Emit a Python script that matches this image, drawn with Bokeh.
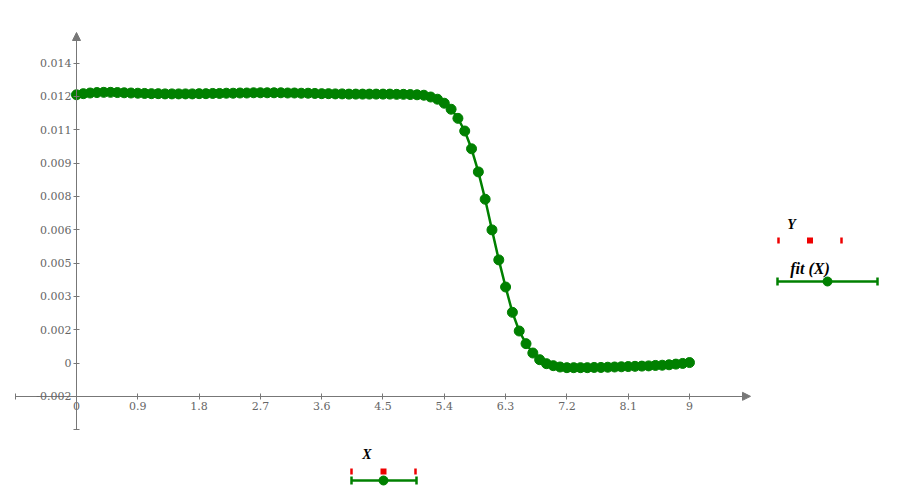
import math
from bokeh.plotting import figure
from bokeh.models import Range1d, LinearAxis, FixedTicker, Arrow, NormalHead
from bokeh.core.properties import value
from bokeh.embed import file_html
from bokeh.resources import INLINE

# ---------------- data ----------------
x_vals = [0.0, 0.1, 0.2, 0.3, 0.4, 0.5, 0.6, 0.7, 0.8, 0.9,
          1.0, 1.1, 1.2, 1.3, 1.4, 1.5, 1.6, 1.7, 1.8, 1.9,
          2.0, 2.1, 2.2, 2.3, 2.4, 2.5, 2.6, 2.7, 2.8, 2.9,
          3.0, 3.1, 3.2, 3.3, 3.4, 3.5, 3.6, 3.7, 3.8, 3.9,
          4.0, 4.1, 4.2, 4.3, 4.4, 4.5, 4.6, 4.7, 4.8, 4.9,
          5.0, 5.1, 5.2, 5.3, 5.4, 5.5, 5.6, 5.7, 5.8, 5.9,
          6.0, 6.1, 6.2, 6.3, 6.4, 6.5, 6.6, 6.7, 6.8, 6.9,
          7.0, 7.1, 7.2, 7.3, 7.4, 7.5, 7.6, 7.7, 7.8, 7.9,
          8.0, 8.1, 8.2, 8.3, 8.4, 8.5, 8.6, 8.7, 8.8, 8.9,
          9.0]
y_vals = [0.01207, 0.01212, 0.01215, 0.01217, 0.01218, 0.01218, 0.01217, 0.01216, 0.01215, 0.01214,
          0.01213, 0.01212, 0.01212, 0.01211, 0.01211, 0.01211, 0.01211, 0.01211, 0.01212, 0.01212,
          0.01213, 0.01213, 0.01214, 0.01214, 0.01215, 0.01215, 0.01216, 0.01216, 0.01216, 0.01216,
          0.01216, 0.01215, 0.01215, 0.01214, 0.01214, 0.01213, 0.01212, 0.01212, 0.01211, 0.01211,
          0.01210, 0.01210, 0.01210, 0.01210, 0.01210, 0.01210, 0.01210, 0.01209, 0.01209, 0.01208,
          0.01207, 0.01205, 0.01197, 0.01187, 0.01169, 0.01142, 0.01101, 0.01044, 0.00964, 0.00860,
          0.00737, 0.00599, 0.00464, 0.00342, 0.00228, 0.00144, 0.00087, 0.00045, 0.00015, -0.00003,
          -0.00012, -0.00018, -0.00021, -0.00021, -0.00021, -0.00021, -0.00020, -0.00020, -0.00019, -0.00018,
          -0.00017, -0.00016, -0.00015, -0.00014, -0.00013, -0.00011, -0.00010, -0.00008, -0.00005, -0.00002,
          0.00002]

x_ticks = [-0.9, 0, 0.9, 1.8, 2.7, 3.6, 4.5, 5.4, 6.3, 7.2, 8.1, 9.0]
x_tick_labels = ["", "0", "0.9", "1.8", "2.7", "3.6", "4.5", "5.4", "6.3", "7.2", "8.1", "9"]
y_ticks = [-0.003, -0.0015, 0, 0.0015, 0.003, 0.0045, 0.006, 0.0075, 0.009, 0.0105, 0.012, 0.0135]
y_tick_labels = ["", "-0.002", "0", "0.002", "0.003", "0.005", "0.006", "0.008", "0.009",
                 "0.011", "0.012", "0.014"]

x_axis_label = "X"
y_axis_label = "Y"
trace_label = "fit (X)"

# ---------------- layout helpers (image pixel -> data) ----------------
W, H = 904, 491
def ix(px):
    return (px - 76.0) / 68.11
def iy(py):
    return (362.5 - py) / 22222.0

GREEN = "#008000"
RED = "#ee0000"
AX = "#777777"
LBL = "#666666"

p = figure(width=W, height=H,
           x_range=Range1d(ix(0), ix(W)), y_range=Range1d(iy(H), iy(0)),
           output_backend="svg", toolbar_location=None, min_border=0,
           x_axis_type=None, y_axis_type=None)
p.outline_line_color = None
p.background_fill_color = "white"

def style_axis(a, standoff):
    a.axis_line_color = AX
    a.axis_line_width = 1
    a.major_tick_line_color = AX
    a.major_tick_in = 3
    a.major_tick_out = 3
    a.minor_tick_line_color = None
    a.major_label_text_font = "DejaVu Serif"
    a.major_label_text_font_size = "11px"
    a.major_label_text_color = LBL
    a.major_label_standoff = standoff

xaxis = LinearAxis(fixed_location=y_ticks[1], bounds=(-0.9005, ix(743)),
                   ticker=FixedTicker(ticks=x_ticks),
                   major_label_overrides=dict(zip(x_ticks, x_tick_labels)))
style_axis(xaxis, 3)
yaxis = LinearAxis(fixed_location=0, bounds=(-0.00301, iy(39)),
                   ticker=FixedTicker(ticks=y_ticks),
                   major_label_overrides=dict(zip(y_ticks, y_tick_labels)))
style_axis(yaxis, 2)
p.add_layout(xaxis, "below")
p.add_layout(yaxis, "left")

# arrow heads
p.add_layout(Arrow(end=NormalHead(size=8, fill_color=AX, line_color=AX, line_width=1),
                   x_start=0, y_start=iy(40), x_end=0, y_end=iy(32),
                   line_color=AX, line_width=1))
p.add_layout(Arrow(end=NormalHead(size=8, fill_color=AX, line_color=AX, line_width=1),
                   x_start=ix(742), y_start=y_ticks[1], x_end=ix(750), y_end=y_ticks[1],
                   line_color=AX, line_width=1))

# main trace
p.line(x_vals, y_vals, line_color=GREEN, line_width=2.5)
p.scatter(x_vals, y_vals, size=10, fill_color=GREEN, line_color=GREEN, marker="circle")

# ---------------- axis-label decorations ----------------
FONT = value("Liberation Serif")

def red_key(x_left, x_right, y_red):
    xm = (x_left + x_right) / 2.0
    p.rect([ix(x_left), ix(x_right)], [iy(y_red)] * 2, width=2.5, height=6,
           width_units="screen", height_units="screen", fill_color=RED, line_color=None)
    p.rect([ix(xm)], [iy(y_red)], width=6, height=6,
           width_units="screen", height_units="screen", fill_color=RED, line_color=None)

def green_key(x_left, x_right, y_green, x_mid):
    p.line([ix(x_left), ix(x_right)], [iy(y_green)] * 2, line_color=GREEN, line_width=2.5)
    p.scatter([ix(x_left), ix(x_right)], [iy(y_green)] * 2, marker="dash", angle=math.pi / 2,
              size=8, line_color=GREEN, line_width=2.5)
    p.scatter([ix(x_mid)], [iy(y_green)], marker="circle", size=9,
              fill_color=GREEN, line_color=GREEN)

# X label under x-axis
p.text([ix(366.5)], [iy(454)], text=[x_axis_label], text_font=FONT, text_font_style="bold italic",
       text_font_size="14px", text_align="center", text_baseline="middle", text_color="black")
red_key(351, 415, 471)
green_key(351, 416, 480, 383)

# Y label and trace legend on the right
p.text([ix(791)], [iy(224)], text=[y_axis_label], text_font=FONT, text_font_style="bold italic",
       text_font_size="14px", text_align="center", text_baseline="middle", text_color="black")
red_key(778, 841, 240)
p.text([ix(809.5)], [iy(268)], text=[trace_label], text_font=FONT, text_font_style="bold italic",
       text_font_size="16px", text_align="center", text_baseline="middle", text_color="black")
green_key(777, 877, 281, 827)

open("out.html", "w").write(file_html(p, INLINE))
